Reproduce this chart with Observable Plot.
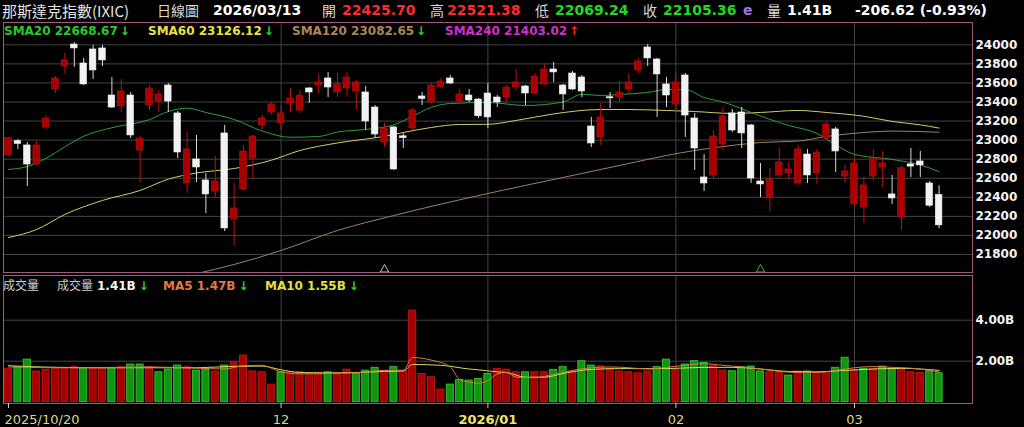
<!DOCTYPE html>
<html><head><meta charset="utf-8">
<script src="https://cdn.jsdelivr.net/npm/d3@7"></script>
<script src="https://cdn.jsdelivr.net/npm/@observablehq/plot@0.6"></script>
<style>
html,body{margin:0;padding:0;background:#000;}
#wrap{position:relative;width:1024px;height:427px;background:#000;overflow:hidden;font-family:"DejaVu Sans",sans-serif;}
.t{position:absolute;white-space:nowrap;}
.h{font-size:14px;line-height:14px;font-weight:bold;}
.cj{font-family:"Noto Sans CJK TC","DejaVu Sans",sans-serif;font-weight:normal;color:#d8d8d8;font-size:14px;line-height:16px;}
.lg{font-size:12px;line-height:12px;font-weight:bold;}
svg{position:absolute;left:0;}
</style></head><body><div id="wrap"></div>
<script>
// ---------- data ----------
const opens  = [22840,22990,22944,22744,23133,23531,23773,24003,23804,23951,
                23962,23468,23353,23468,22891,23363,23405,23573,23280,22545,
                22797,22577,22461,23070,22167,22482,22807,23154,23290,23175,
                23384,23311,23542,23573,23647,23500,23542,23510,23500,23342,
                22975,23133,23040,23122,23458,23395,23552,23647,23405,23468,
                23426,23489,23447,23447,23552,23563,23489,23584,23741,23573,
                23699,23657,23143,23028,23450,23447,23531,23731,23972,23846,
                23584,23374,23678,23227,22608,22629,22954,23280,23290,23154,
                22566,22398,22629,22650,22545,22849,22650,23017,23112,22618,
                22325,22293,22618,22713,22430,22188,22745,22776,22545,22425.70];
const highs  = [23030,23005,22975,22986,23258,23668,23909,24024,23857,23993,
                23993,23657,23636,23500,23038,23573,23521,23594,23300,23080,
                23049,22650,22828,23154,22545,22944,23049,23258,23395,23363,
                23542,23521,23552,23699,23710,23699,23710,23626,23563,23363,
                23175,23143,23070,23332,23500,23594,23647,23678,23531,23531,
                23437,23594,23468,23573,23741,23573,23699,23804,23815,23584,
                23720,23678,23238,23384,23500,23615,23699,23857,24003,23857,
                23657,23699,23699,23280,22849,23101,23342,23321,23342,23164,
                22755,22702,22912,22765,22944,22902,22902,23185,23133,22734,
                22807,22608,22902,22881,22629,22723,22912,22881,22566,22521.38];
const lows   = [22830,22900,22513,22723,23112,23489,23689,23762,23573,23636,
                23773,23332,23290,23017,22555,23311,23290,23290,22807,22440,
                22555,22230,22398,22041,21884,22471,22587,23101,23258,23101,
                23290,23280,23384,23489,23447,23447,23447,23311,23101,23017,
                22923,22681,22912,23101,23363,23384,23542,23584,23395,23395,
                23227,23122,23342,23395,23521,23363,23479,23573,23605,23311,
                23521,23447,22923,22944,23332,23395,23489,23699,23773,23238,
                23342,23290,23028,22681,22461,22587,22891,23080,22912,22545,
                22398,22241,22608,22587,22535,22545,22535,22996,22660,22545,
                22314,22125,22566,22503,22325,22052,22608,22608,22293,22069.24];
const closes = [23020,22960,22744,22944,23227,23647,23836,23962,23584,23731,
                23836,23342,23510,23049,23017,23542,23479,23405,22870,22902,
                22713,22430,22566,22073,22283,22881,23038,23227,23374,23280,
                23437,23468,23500,23605,23552,23584,23657,23605,23196,23059,
                23122,22692,23020,23311,23432,23573,23615,23594,23479,23416,
                23250,23238,23395,23552,23605,23489,23668,23741,23710,23479,
                23531,23510,22965,23238,23438,23500,23605,23825,23857,23689,
                23468,23605,23258,22912,22545,23038,23248,23101,23070,22597,
                22535,22587,22765,22692,22902,22629,22870,23164,22881,22671,
                22755,22524,22807,22755,22388,22705,22722,22735,22311.98,22105.36];
const volumes = [1.63,1.71,2.08,1.50,1.58,1.68,1.68,1.71,1.66,1.68,
                 1.68,1.68,1.71,1.84,1.84,1.71,1.46,1.59,1.79,1.71,
                 1.54,1.59,1.50,1.79,1.95,2.28,1.50,1.46,0.86,1.46,
                 1.46,1.46,1.38,1.43,1.46,1.33,1.59,1.38,1.54,1.68,
                 1.54,1.71,1.54,4.47,1.38,1.22,0.62,0.86,1.09,1.06,
                 1.14,1.38,1.63,1.59,1.46,1.46,1.46,1.46,1.58,1.71,
                 1.50,2.00,1.79,1.75,1.63,1.50,1.46,1.41,1.50,1.71,
                 2.08,1.58,1.84,2.00,1.92,1.79,1.54,1.51,1.71,1.74,
                 1.50,1.46,1.43,1.30,1.50,1.50,1.43,1.46,1.68,2.17,
                 1.54,1.63,1.63,1.74,1.63,1.63,1.46,1.43,1.50,1.41];
// volume bar colour: R = red (up vs. prior close), G = green
const volColors = "RGGRRRRRGR" + "RGRGGRGGGR" + "GGRGRRRRRG" + "RRRRGRRGGG" + "RGRRRRRGGG" +
                  "GGRRRGRRGG" + "RGGRRRRRRG" + "GRGGGRRGGG" + "GRRGRGRRGG" + "RGRGGRRRGG";

const sma20Idx = [0,2,4,6,8,11,15,17,19,21,24,27,30,33,35,38,41,43,45,47,51,55,59,61,63,65,68,70,72,74,76,79,81,83,86,88,90,94,97,99];
const sma20Val = [22692,22723,22810,22930,23040,23130,23215,23300,23335,23290,23217,23095,23030,23038,23085,23112,23160,23250,23345,23384,23395,23363,23400,23480,23468,23479,23500,23531,23530,23447,23400,23290,23217,23154,23070,22950,22850,22797,22740,22668.67];
const sma60Idx = [0,3,6,10,14,17,20,24,28,31,35,40,42,45,48,51,54,58,63,66,70,73,77,80,84,87,91,94,97,99];
const sma60Val = [21978,22062,22220,22367,22472,22590,22655,22702,22790,22891,22970,23040,23080,23133,23164,23166,23206,23275,23321,23321,23311,23300,23280,23290,23311,23290,23250,23196,23160,23126.12];
const sma120Idx = [16,20,24,29,35,41,51,59,66,70,73,77,80,84,87,91,94,99];
const sma120Val = [21520,21600,21695,21842,22052,22209,22440,22608,22755,22839,22891,22944,22975,22990,23038,23080,23095,23082.65];

const ma5Idx = [0,5,10,15,20,23,25,27,28,29,31,34,37,40,42,43,45,47,48,49,50,51,52,53,54,56,58,60,62,64,66,68,70,72,74,76,78,80,82,84,86,88,90,92,94,96,98,99];
const ma5Val = [1.72,1.68,1.68,1.72,1.66,1.62,1.78,1.80,1.65,1.48,1.38,1.40,1.44,1.55,1.56,2.18,2.05,1.72,1.10,0.98,0.93,1.05,1.38,1.45,1.22,1.20,1.35,1.55,1.68,1.72,1.68,1.62,1.70,1.80,1.88,1.80,1.72,1.62,1.50,1.45,1.45,1.55,1.68,1.74,1.70,1.66,1.55,1.47];
const ma10Idx = [0,5,10,15,20,24,27,29,31,34,37,40,42,43,46,49,50,52,53,55,57,59,62,65,70,74,77,80,83,86,89,92,95,97,99];
const ma10Val = [1.78,1.70,1.68,1.68,1.68,1.75,1.76,1.58,1.45,1.43,1.45,1.50,1.52,1.84,1.80,1.62,1.58,1.48,1.45,1.22,1.22,1.40,1.60,1.64,1.64,1.70,1.70,1.62,1.50,1.48,1.55,1.62,1.65,1.62,1.55];

const priceTicks = [21800,22000,22200,22400,22600,22800,23000,23200,23400,23600,23800,24000];
const volTicks = [2, 4];
const monthIdx = [29, 51, 71, 90];
const xLabelIdx = [0, 29, 51, 71, 90];
const xLabels = ["2025/10/20", "12", "2026/01", "02", "03"];
const markerIdx = [40, 80];

const smaLegend = [
  {name:"SMA20", value:"22668.67", dir:"down"},
  {name:"SMA60", value:"23126.12", dir:"down"},
  {name:"SMA120", value:"23082.65", dir:"down"},
  {name:"SMA240", value:"21403.02", dir:"up"}
];
const volLegend = {vol:"1.41B", ma5:"1.47B", ma10:"1.55B"};
const title = "那斯達克指數(IXIC)";
const period = "日線圖";
const dateLabel = "2026/03/13";

// ---------- styles ----------
const RED = "#a80000", REDLINE = "#c01010", WHITE = "#f2f2f2", WICKW = "#d8d8d8";
const GRID = "#444444", FRAME = "#a05a80";
const X0 = -0.532, X1 = 102.553;

const candles = opens.map((o, i) => ({i, o, h: highs[i], l: lows[i], c: closes[i], up: closes[i] >= o}));
const vols = volumes.map((v, i) => ({i, v, up: volColors[i] === "R"}));
const pts = (idx, val) => idx.map((x, k) => ({x, y: val[k]}));

const wrap = document.getElementById("wrap");

// ---------- price panel ----------
const price = Plot.plot({
  width: 1024, height: 275,
  marginLeft: 3, marginRight: 52, marginTop: 22, marginBottom: 3,
  style: {background: "transparent", color: "#ffffff", fontFamily: "DejaVu Sans", fontSize: "12px"},
  x: {domain: [X0, X1], axis: null},
  y: {domain: [21611, 24234]},
  color: {type: "identity"},
  marks: [
    Plot.gridY(priceTicks, {stroke: GRID, strokeOpacity: 1}),
    Plot.ruleX(monthIdx, {stroke: GRID, strokeOpacity: 1}),
    Plot.axisY({anchor: "right", ticks: priceTicks, tickSize: 0, tickPadding: 3, tickFormat: d => String(d), fontWeight: "bold", fontSize: 12, fill: "#f4f4f4"}),
    Plot.line(pts(sma120Idx, sma120Val), {x: "x", y: "y", stroke: "#a08060", strokeWidth: 1, curve: "monotone-x", clip: true}),
    Plot.line(pts(sma60Idx, sma60Val), {x: "x", y: "y", stroke: "#d4cc70", strokeWidth: 1, curve: "monotone-x", clip: true}),
    Plot.line(pts(sma20Idx, sma20Val), {x: "x", y: "y", stroke: "#2e9e3e", strokeWidth: 1, curve: "monotone-x", clip: true}),
    Plot.ruleX(candles, {x: "i", y1: "l", y2: "h", stroke: d => d.up ? REDLINE : WICKW, strokeWidth: 1}),
    Plot.rect(candles, {x1: d => d.i - 0.35, x2: d => d.i + 0.35, y1: "o", y2: "c", fill: d => d.up ? RED : WHITE, stroke: d => d.up ? REDLINE : WHITE, strokeWidth: 0.6}),
    Plot.dot(markerIdx, {x: d => d, frameAnchor: "bottom", dy: -3, symbol: "triangle", r: 3.2, stroke: (d, k) => k === 0 ? "#c8c8a0" : "#40b040", fill: "none", strokeWidth: 1}),
    Plot.frame({stroke: FRAME, strokeWidth: 1})
  ]
});
price.style.top = "0px";
wrap.appendChild(price);

// ---------- volume panel ----------
const volume = Plot.plot({
  width: 1024, height: 154,
  marginLeft: 3, marginRight: 52, marginTop: 2, marginBottom: 24,
  style: {background: "transparent", color: "#ffffff", fontFamily: "DejaVu Sans", fontSize: "12px"},
  x: {domain: [X0, X1], axis: null},
  y: {domain: [-0.063, 6.18]},
  color: {type: "identity"},
  marks: [
    Plot.gridY(volTicks, {stroke: GRID, strokeOpacity: 1}),
    Plot.ruleX(monthIdx, {stroke: GRID, strokeOpacity: 1}),
    Plot.axisY({anchor: "right", ticks: volTicks, tickSize: 0, tickPadding: 3, tickFormat: d => d.toFixed(2) + "B", fontWeight: "bold", fontSize: 12, fill: "#f4f4f4"}),
    Plot.rect(vols, {x1: d => d.i - 0.38, x2: d => d.i + 0.38, y1: 0, y2: "v", fill: d => d.up ? "#a80000" : "#0e960e", stroke: d => d.up ? "#c01a1a" : "#3ccc3c", strokeWidth: 0.8}),
    Plot.line(pts(ma10Idx, ma10Val), {x: "x", y: "y", stroke: "#d8d860", strokeWidth: 1, curve: "monotone-x"}),
    Plot.line(pts(ma5Idx, ma5Val), {x: "x", y: "y", stroke: "#d87a40", strokeWidth: 1, curve: "monotone-x"}),
    Plot.frame({stroke: FRAME, strokeWidth: 1})
  ]
});
volume.style.top = "273px";
wrap.appendChild(volume);

// x-axis tick marks and labels
const axis = Plot.plot({
  width: 1024, height: 30,
  marginLeft: 3, marginRight: 52, marginTop: 0, marginBottom: 0,
  style: {background: "transparent", fontFamily: "DejaVu Sans"},
  x: {domain: [X0, X1], axis: null},
  y: {domain: [0, 30], range: [0, 30], axis: null},
  marks: [
    Plot.ruleX(xLabelIdx, {x: d => d, y1: 0, y2: 5, stroke: "#c8c8c8"}),
    Plot.text(xLabelIdx.slice(0, 1), {x: d => d, y: 16, text: () => xLabels[0], textAnchor: "start", dx: -4, fill: "#dcd68c", fontSize: 13, lineAnchor: "middle"}),
    Plot.text(xLabelIdx.filter((d, k) => k > 0 && xLabels[k].length < 4), {x: d => d, y: 16, text: d => xLabels[xLabelIdx.indexOf(d)], fill: "#dcd68c", fontSize: 13, lineAnchor: "middle"}),
    Plot.text(xLabelIdx.filter((d, k) => k > 0 && xLabels[k].length >= 4), {x: d => d, y: 16, text: d => xLabels[xLabelIdx.indexOf(d)], fill: "#ece470", fontSize: 13, fontWeight: "bold", lineAnchor: "middle"})
  ]
});
axis.style.top = "403px";
wrap.appendChild(axis);

// ---------- header & legends ----------
function addText(x, y, txt, cls, color) {
  const s = document.createElement("div");
  s.className = "t " + cls;
  s.style.left = x + "px"; s.style.top = y + "px";
  if (color) s.style.color = color;
  s.textContent = txt;
  wrap.appendChild(s);
  return s;
}
const last = candles[candles.length - 1];
const prevClose = closes[closes.length - 2];
const chg = last.c - prevClose;
const pct = chg / prevClose * 100;
const f2 = v => v.toFixed(2);

const tl = addText(2, 2, title, "cj", "#e4e4e4");
tl.style.fontSize = "15px"; tl.style.lineHeight = "17px";
addText(157, 2, period, "cj");
addText(213, 3, dateLabel, "h", "#ffffff");
addText(322, 2, "開", "cj");
addText(342, 3, f2(last.o), "h", "#ff2a2a");
addText(430, 2, "高", "cj");
addText(447, 3, f2(last.h), "h", "#ff2a2a");
addText(535, 2, "低", "cj");
addText(555, 3, f2(last.l), "h", "#22d822");
addText(643, 2, "收", "cj");
addText(663, 3, f2(last.c), "h", "#22d822");
addText(743, 3, "e", "h", "#a070e0");
addText(767, 2, "量", "cj");
addText(787, 3, volLegend.vol, "h", "#ffffff");
addText(855, 3, `${chg >= 0 ? "+" : ""}${f2(chg)} (${pct >= 0 ? "+" : ""}${f2(pct)}%)`, "h", "#ffffff");

const smaX = [4, 148, 292, 445];
const smaColors = ["#2ac82a", "#e8e040", "#aa8656", "#d030d0"];
smaLegend.forEach((d, k) => {
  const el = addText(smaX[k], 25, `${d.name} ${d.value}`, "lg", smaColors[k]);
  const ar = document.createElement("span");
  ar.textContent = d.dir === "down" ? "↓" : "↑";
  ar.style.color = d.dir === "down" ? "#22d822" : "#ff2a2a";
  ar.style.marginLeft = "2px";
  el.appendChild(ar);
});

const v1 = addText(3, 278, "成交量", "cj", "#d0d0d0"); v1.style.fontSize = "12px"; v1.style.lineHeight = "14px";
const v2 = addText(57, 278, "成交量", "cj", "#c8c8c8"); v2.style.fontSize = "12px"; v2.style.lineHeight = "14px";
function legendItem(x, txt, color) {
  const el = addText(x, 280, txt, "lg", color);
  const ar = document.createElement("span");
  ar.textContent = "↓"; ar.style.color = "#22d822"; ar.style.marginLeft = "3px";
  el.appendChild(ar);
}
legendItem(97, volLegend.vol, "#f4f4f4");
legendItem(163, "MA5 " + volLegend.ma5, "#e07840");
legendItem(265, "MA10 " + volLegend.ma10, "#e0e040");
</script></body></html>
